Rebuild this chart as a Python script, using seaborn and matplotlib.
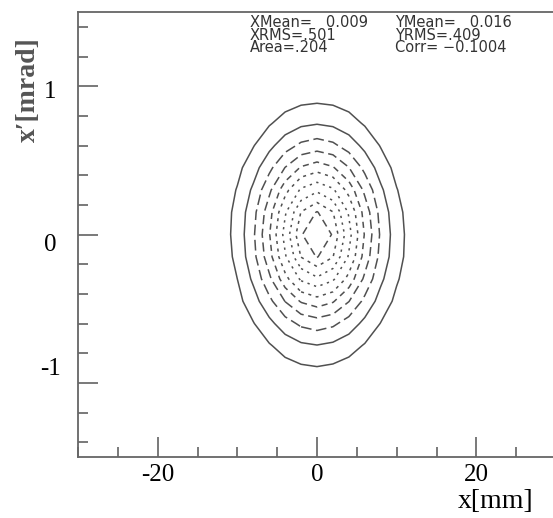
import numpy as np
import matplotlib
matplotlib.use("Agg")
import matplotlib.pyplot as plt
import matplotlib.transforms as mtransforms
import seaborn as sns
from matplotlib.ticker import MultipleLocator

# bin centres of the phase-space histogram
x_centers = [-12, -10, -8, -6, -4, -2, 0, 2, 4, 6, 8, 10, 12]
y_centers = [-1.05, -0.90, -0.75, -0.60, -0.45, -0.30, -0.15, 0.0,
             0.15, 0.30, 0.45, 0.60, 0.75, 0.90, 1.05]

# counts per bin (rows go from bottom to top)
counts = [
    [2, 5, 10, 18, 27, 35, 40, 35, 27, 18, 10, 5, 2],
    [5, 12, 25, 44, 66, 85, 94, 84, 65, 44, 25, 12, 5],
    [11, 25, 52, 91, 137, 175, 190, 172, 136, 92, 54, 26, 11],
    [19, 45, 95, 167, 250, 316, 343, 316, 249, 168, 97, 48, 19],
    [31, 72, 152, 267, 398, 505, 548, 505, 398, 268, 155, 78, 31],
    [43, 100, 213, 372, 556, 706, 765, 706, 556, 372, 215, 110, 45],
    [52, 122, 262, 455, 679, 863, 935, 863, 679, 455, 262, 135, 55],
    [56, 132, 278, 487, 726, 923, 1000, 923, 726, 487, 280, 140, 58],
    [52, 127, 260, 455, 679, 863, 935, 863, 679, 455, 260, 130, 52],
    [43, 106, 213, 372, 556, 706, 765, 706, 556, 372, 213, 104, 43],
    [31, 76, 152, 267, 398, 505, 548, 505, 398, 267, 150, 72, 31],
    [19, 47, 95, 167, 249, 316, 343, 316, 249, 167, 94, 45, 19],
    [11, 25, 52, 91, 136, 173, 188, 173, 136, 90, 51, 24, 11],
    [5, 12, 25, 44, 65, 83, 90, 83, 65, 44, 25, 12, 5],
    [2, 5, 10, 18, 27, 35, 38, 35, 27, 18, 10, 5, 2],
]

contour_levels = [100, 195, 295, 395, 495, 590, 690, 780, 860, 930]
contour_styles = ['solid', 'solid', (0, (7, 3)), (0, (6, 3)), (0, (4, 3)),
                  (0, (2, 3)), (0, (1.5, 3)), (0, (1.5, 3)), (0, (2, 3)),
                  (0, (5, 3))]

x_major = [-20, 0, 20]
x_labels = ['-20', '0', '20']
y_major = [-1, 0, 1]
y_labels = ['-1', '0', '1']
# vertical shift of the y labels against their ticks, pixels (as in the original)
y_label_shift = [16, -8, -3]

stats_left = ['XMean=   0.009', 'XRMS=.501', 'Area=.204']
stats_right = ['YMean=   0.016', 'YRMS=.409', 'Corr= \u22120.1004']

sns.set_theme(style="white")
plt.rcParams['font.family'] = ['Liberation Serif', 'DejaVu Serif']

fig = plt.figure(figsize=(5.53, 5.18), dpi=100)
ax = fig.add_axes([78 / 553, 61 / 518, 478 / 553, 445 / 518])

ax.contour(x_centers, y_centers, np.array(counts), levels=contour_levels,
           colors='#505050', linewidths=1.1, linestyles=contour_styles)

ax.set_xlim(-30, 30)
ax.set_ylim(-1.5, 1.5)
ax.set_xticks(x_major)
ax.set_xticklabels(x_labels)
ax.set_yticks(y_major)
ax.set_yticklabels(y_labels)
ax.xaxis.set_minor_locator(MultipleLocator(5))
ax.yaxis.set_minor_locator(MultipleLocator(0.2))

ax.tick_params(axis='both', which='major', direction='in', length=14.4,
               width=1.1, color='#555555', labelsize=18, labelcolor='black')
ax.tick_params(axis='both', which='minor', direction='in', length=7.2,
               width=1.1, color='#555555')
ax.tick_params(axis='x', which='major', pad=5)
ax.tick_params(axis='y', which='major', pad=20)
ax.tick_params(bottom=True, left=True, which='both')
for lbl, dy in zip(ax.get_yticklabels(), y_label_shift):
    lbl.set_horizontalalignment('center')
    lbl.set_transform(lbl.get_transform() +
                      mtransforms.ScaledTranslation(0, dy / 100, fig.dpi_scale_trans))

for side in ax.spines.values():
    side.set_color('#666666')
    side.set_linewidth(1.3)
ax.spines['right'].set_visible(False)

# statistics box, one block per column
for xpos, lines in [(250, stats_left), (395, stats_right)]:
    fig.text(xpos / 553, 1 - 35 / 518, '\n'.join(lines), ha='left',
             va='center', fontsize=10.5, linespacing=0.76,
             color='#333333', family=['DejaVu Sans'])

fig.text(28 / 553, 1 - 90 / 518, 'x\u2032[mrad]', rotation=90, ha='center',
         va='center', fontsize=20, fontweight='bold', color='#555555')
fig.text(496 / 553, 1 - 501 / 518, 'x[mm]', ha='center', va='center',
         fontsize=20, color='black')

fig.savefig('out.png', dpi=100, facecolor='white')
